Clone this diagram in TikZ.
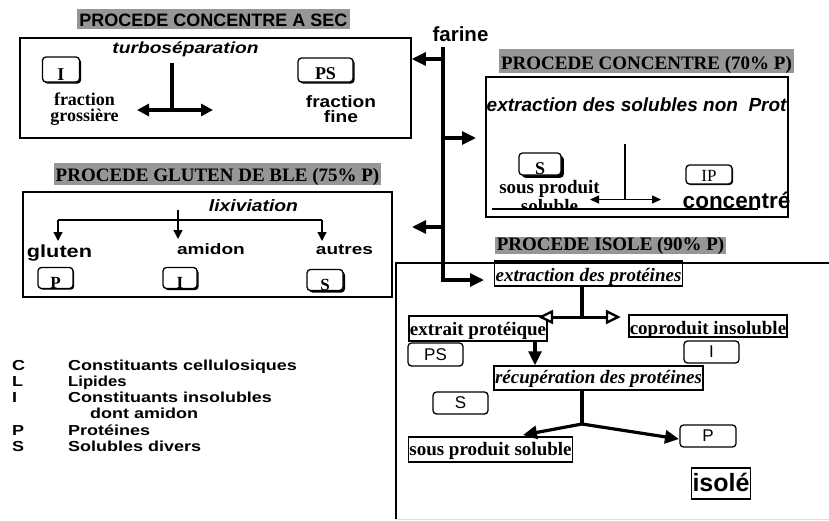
\documentclass[tikz,border=0pt]{standalone}
\usepackage{fontspec}
\setmainfont{Liberation Serif}
\setsansfont{Liberation Sans}
\usetikzlibrary{arrows.meta,shadows}
\definecolor{titlegray}{RGB}{150,150,150}
\newcommand\xs[2]{\scalebox{#1}[1]{#2}}
\newcommand\fs[1]{\fontsize{#1}{#1}\selectfont}
\newcommand\fsl[2]{\fontsize{#1}{#2}\selectfont}

\begin{document}
\begin{tikzpicture}[x=1pt,y=-1pt,
  frame/.style={draw, line width=1.5pt, inner sep=0pt},
  ttl/.style={fill=titlegray, inner xsep=2pt, inner ysep=1pt},
  tag/.style={draw, fill=white, rounded corners=3.5pt, line width=1.3pt, inner sep=0pt},
  shad/.style={general shadow={fill=black, shadow xshift=#1, shadow yshift=-#1}},
  shad/.default=1.6pt,
  stepframe/.style={draw, line width=1.5pt, inner xsep=1pt, inner ysep=0pt},
  fatline/.style={line width=3.2pt},
  fat/.style={line width=3.2pt, -{Triangle[length=14pt,width=13pt]}},
  fatboth/.style={line width=3.2pt, {Triangle[length=12pt,width=12pt]}-{Triangle[length=12pt,width=12pt]}},
  thin/.style={line width=1.3pt, -{Triangle[length=9pt,width=9pt]}},
  thinboth/.style={line width=1.3pt, {Triangle[length=9pt,width=8pt]}-{Triangle[length=9pt,width=8pt]}},
  hollowhead/.style={draw, fill=white, line width=2.4pt, line join=miter},
  txt/.style={inner sep=0pt, anchor=base},
  two/.style={inner sep=0pt, align=center},
  leg/.style={inner sep=0pt, anchor=base west, font=\fs{14.5}\sffamily\bfseries}
]
\useasboundingbox (0,0) rectangle (829,520);

% ---------- dry process ----------
\node[ttl, font=\fs{18}\sffamily\bfseries, text height=16pt, text depth=2pt] (t1) at (213.5,19) {PROCEDE CONCENTRE A SEC};
\node[frame, minimum width=391pt, minimum height=100pt] (b1) at (215.5,88) {};
\node[txt, font=\fs{16}\sffamily\bfseries\itshape] (turbo) at (185.5,53) {\xs{1.2}{turboséparation}};
\node[tag, shad, minimum width=37pt, minimum height=25pt, text height=22pt, text depth=0pt,
      font=\fs{18}\rmfamily\bfseries] (dI) at (61,69.5) {I};
\node[tag, shad, minimum width=55pt, minimum height=24pt, text height=19.9pt, text depth=0pt,
      font=\fs{18}\rmfamily\bfseries] (dPS) at (325.5,70) {PS};
% a multi-line node sits on the baseline of its last line
\node[two, anchor=base, font=\fsl{18}{16}\rmfamily\bfseries] (fg) at (84.5,121) {fraction\\grossière};
\node[two, anchor=base, font=\fsl{16.5}{15}\sffamily\bfseries] (ff) at (341,122) {\xs{1.16}{fraction}\\\xs{1.16}{fine}};
\coordinate (tv) at (172,63);
\coordinate (tj) at (172,110);
\coordinate (tl) at (137,110);
\coordinate (tr) at (213,110);
\draw[fatline] (tv) -- (tj);
\draw[fatboth] (tl) -- (tr);

% ---------- flour trunk ----------
\node[txt, font=\fs{20.5}\sffamily\bfseries] (farine) at (460.5,41) {farine};
\coordinate (fTop) at (443,47);
\coordinate (j1) at (443,59);
\coordinate (j2) at (443,138);
\coordinate (j3) at (443,227);
\coordinate (j4) at (443,280);
\coordinate (e2) at (476,138);
\coordinate (e3) at (412,227);
\coordinate (e4) at (484,280);
\draw[fat] (fTop) -- (j4) -- (e4);
\draw[fat] (j1) -- (b1.east |- j1);
\draw[fat] (j2) -- (e2);
\draw[fat] (j3) -- (e3);

% ---------- wet concentrate ----------
\node[ttl, font=\fs{19}\rmfamily\bfseries, text height=19.3pt, text depth=2.7pt] (t2) at (646.5,61) {PROCEDE CONCENTRE (70\% P)};
\node[frame, minimum width=302pt, minimum height=140pt] (b2) at (637,147) {};
\begin{scope}
  \clip (486,77) rectangle (788,217);
  \node[txt, anchor=base west, font=\fs{19}\sffamily\bfseries\itshape] (extsol) at (486.5,111) {extraction des solubles non~~Prot};
\end{scope}
\node[tag, shad=2.8pt, minimum width=42pt, minimum height=22pt, text height=21.9pt, text depth=0pt,
      font=\fs{18}\rmfamily\bfseries] (cS) at (540,164) {S};
\node[tag, shad=1pt, minimum width=46pt, minimum height=19pt, text height=13.3pt, text depth=0pt,
      font=\fs{17}\rmfamily] (cIP) at (709,174.5) {IP};
\begin{scope}
  \clip (480,178) rectangle (620,208.5);
  \node[two, anchor=base, font=\fsl{19}{19}\rmfamily\bfseries] (sp) at (549.5,212) {sous produit\\soluble};
\end{scope}
\coordinate (cv) at (625,144);
\coordinate (cj) at (625,200);
\coordinate (cl) at (590,199.5);
\coordinate (cr) at (661,199.5);
\draw[line width=1.3pt] (cv) -- (cj);
\draw[thinboth] (cl) -- (cr);
\coordinate (gl) at (492,209);
\coordinate (gr) at (758,209);
\draw[line width=1.6pt] (gl) -- (gr);
\node[txt, font=\fs{22.5}\sffamily\bfseries] (conc) at (736.5,208) {concentré};

% ---------- wheat gluten ----------
\node[ttl, font=\fs{19}\rmfamily\bfseries, text height=17.7pt, text depth=2.3pt] (t3) at (217.5,174) {PROCEDE GLUTEN DE BLE (75\% P)};
\node[frame, minimum width=369pt, minimum height=105pt] (b3) at (207.5,244.5) {};
\node[txt, font=\fs{16.5}\sffamily\bfseries\itshape] (lix) at (253.5,211) {\xs{1.17}{lixiviation}};
\coordinate (lv) at (178,210);
\coordinate (lm) at (178,239);
\coordinate (hl) at (58,220);
\coordinate (hr) at (322,220);
\coordinate (al) at (58,241);
\coordinate (ar) at (322,241);
\draw[line width=1.4pt] (hl) -- (hr);
\draw[thin] (lv) -- (lm);
\draw[thin] (hl) -- (al);
\draw[thin] (hr) -- (ar);
\node[txt, font=\fs{17.5}\sffamily\bfseries] (glu) at (59.5,257) {\xs{1.24}{gluten}};
\node[txt, font=\fs{15}\sffamily\bfseries] (ami) at (211,254) {\xs{1.27}{amidon}};
\node[txt, font=\fs{15}\sffamily\bfseries] (aut) at (344.5,254) {\xs{1.27}{autres}};
\node[tag, shad=1.2pt, minimum width=35pt, minimum height=20pt, text height=21pt, text depth=0pt,
      font=\fs{17}\rmfamily\bfseries] (gP) at (55.5,278) {P};
\node[tag, shad=1.6pt, minimum width=34pt, minimum height=20pt, text height=21pt, text depth=0pt,
      font=\fs{17}\rmfamily\bfseries] (gI) at (180,278) {I};
\node[tag, shad=2pt, minimum width=36pt, minimum height=20pt, text height=21pt, text depth=0pt,
      font=\fs{17}\rmfamily\bfseries] (gS) at (325,280) {S};

% ---------- isolate ----------
\node[ttl, inner ysep=0pt, font=\fs{19}\rmfamily\bfseries, text height=13.7pt, text depth=3.3pt] (t4) at (610.5,245.5) {PROCEDE ISOLE (90\% P)};
\coordinate (k1) at (396,519);
\coordinate (k2) at (396,263);
\coordinate (k3) at (829,263);
\coordinate (k4) at (829,519);
\draw[line width=1.5pt] (k1) -- (k2) -- (k3);
\draw[line width=1pt, gray!25] (k1) -- (k4);

\node[stepframe, font=\fs{19}\rmfamily\bfseries\itshape, text height=20.7pt, text depth=4.3pt] (ext) at (588.5,273.5) {extraction des protéines};
\node[stepframe, font=\fs{19}\rmfamily\bfseries, text height=19pt, text depth=6pt] (extr) at (478,328.5) {extrait protéique};
\node[stepframe, font=\fs{19}\rmfamily\bfseries, text height=19pt, text depth=3pt] (copro) at (708,326) {coproduit insoluble};
\node[stepframe, font=\fs{19}\rmfamily\bfseries\itshape, text height=17.3pt, text depth=6.7pt] (recup) at (598.5,378) {récupération des protéines};
\node[stepframe, font=\fs{19}\rmfamily\bfseries, text height=18pt, text depth=7pt] (sps) at (490.5,449.5) {sous produit soluble};
\node[stepframe, font=\fs{25}\sffamily\bfseries, text height=23.7pt, text depth=7.3pt] (iso) at (721,483.5) {isolé};

\node[tag, minimum width=55pt, minimum height=23pt, font=\fs{17}\sffamily] (iPS) at (435.5,354.5) {PS};
\node[tag, minimum width=55pt, minimum height=22pt, font=\fs{17}\sffamily] (iI) at (711.5,352) {I};
\node[tag, minimum width=55pt, minimum height=22pt, font=\fs{17}\sffamily] (iS) at (460.5,403) {S};
\node[tag, minimum width=56pt, minimum height=22pt, font=\fs{17}\sffamily] (iP) at (708,436) {P};

% split after extraction: shaft with two hollow heads
\coordinate (x1) at (582,317);
\coordinate (dl) at (541,317);
\coordinate (dr) at (618,317);
\draw[fatline] (ext.south -| x1) -- (x1);
\draw[line width=3pt] (dl) -- (dr);
\draw[hollowhead] (dl) -- ++(11,-5.5) -- ++(0,11) -- cycle;
\draw[hollowhead] (dr) -- ++(-11,-5.5) -- ++(0,11) -- cycle;

\coordinate (ax) at (535,350);
\draw[fat] (extr.south -| ax) -- (recup.north -| ax);
\coordinate (x2) at (582,424);
\coordinate (tipL) at (523,435);
\coordinate (tipR) at (679,439);
\draw[fatline] (recup.south -| x2) -- (x2);
\draw[fat] (x2) -- (tipL);
\draw[fat] (x2) -- (tipR);

% ---------- key ----------
\node[leg] (kC) at (12,370) {\xs{1.24}{C}};
\node[leg] (kL) at (12,386) {\xs{1.24}{L}};
\node[leg] (kI) at (12,402) {\xs{1.24}{I}};
\node[leg] (kP) at (12,435) {\xs{1.24}{P}};
\node[leg] (kS) at (12,451) {\xs{1.24}{S}};
\node[leg] (dC) at (68,370) {\xs{1.24}{Constituants cellulosiques}};
\node[leg] (dL) at (68,386) {\xs{1.15}{Lipides}};
\node[leg] (dI) at (68,402) {\xs{1.24}{Constituants insolubles}};
\node[leg] (dI2) at (90,418) {\xs{1.24}{dont amidon}};
\node[leg] (dP) at (68,435) {\xs{1.24}{Protéines}};
\node[leg] (dS) at (68,451) {\xs{1.24}{Solubles divers}};
\end{tikzpicture}
\end{document}
